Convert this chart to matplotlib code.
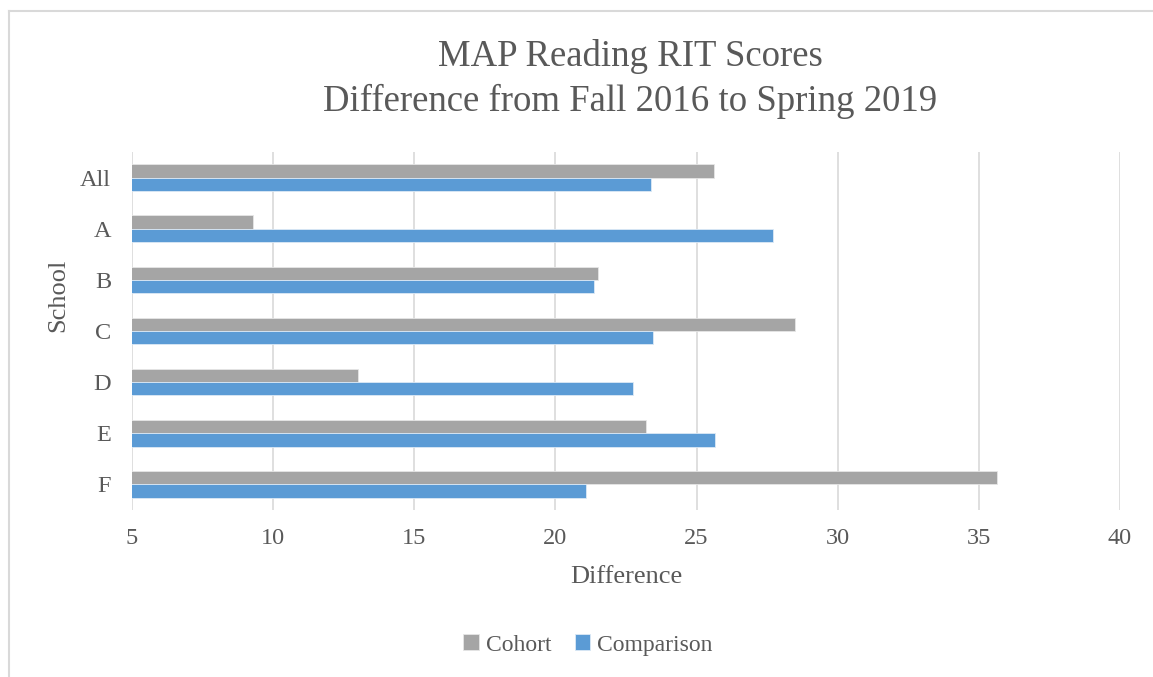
import numpy as np
import matplotlib.pyplot as plt
from matplotlib.lines import Line2D

# data
schools = ['All', 'A', 'B', 'C', 'D', 'E', 'F']
cohort = [25.6, 9.3, 21.5, 28.5, 13.0, 23.2, 35.65]
comparison = [23.4, 27.7, 21.35, 23.45, 22.75, 25.65, 21.1]
xticks = [5, 10, 15, 20, 25, 30, 35, 40]

plt.rcParams['font.family'] = ['Liberation Serif', 'DejaVu Serif']
txt = '#595959'

fig = plt.figure(figsize=(11.53, 6.77), dpi=100)
ax = fig.add_axes([132/1153, 1 - 510/677, (1120-132)/1153, (510-152)/677])

y = np.arange(len(schools))
h = 0.26
ax.barh(y - h/2, cohort, height=h, left=0, color='#A5A5A5', edgecolor='#E6E6E6',
        linewidth=0.6, label='Cohort', zorder=3)
ax.barh(y + h/2, comparison, height=h, left=0, color='#5B9BD5', edgecolor='#DCE9F5',
        linewidth=0.6, label='Comparison', zorder=3)

ax.set_xlim(5, 40)
ax.set_ylim(len(schools) - 0.5, -0.5)
ax.set_xticks(xticks)
ax.set_yticks(y)
ax.set_yticklabels(schools)
ax.tick_params(axis='both', length=0, labelsize=17.5, colors=txt)
ax.tick_params(axis='x', pad=13)
ax.tick_params(axis='y', pad=15)
ax.grid(axis='x', color='#D9D9D9', linewidth=1.2, zorder=0)
for s in ax.spines.values():
    s.set_visible(False)

# axis titles
fig.text(626/1153, 1 - 577/677, 'Difference', ha='center', va='center',
         fontsize=19, color=txt)
fig.text(58/1153, 1 - 295/677, 'School', ha='center', va='center', rotation=90,
         fontsize=19, color=txt)

fig.text(630/1153, 1 - 56/677, 'MAP Reading RIT Scores', ha='center', va='center',
         fontsize=26.5, color=txt)
fig.text(630/1153, 1 - 101/677, 'Difference from Fall 2016 to Spring 2019', ha='center',
         va='center', fontsize=26.5, color=txt)

fig.legend(loc='center', bbox_to_anchor=(588/1153, 1 - 645/677), ncol=2, frameon=False,
           fontsize=17, labelcolor=txt, handlelength=0.65, handleheight=0.65,
           handletextpad=0.3, columnspacing=1.0)

# light chart frame
fig.add_artist(Line2D([9/1153, 9/1153], [0, 1 - 11/677], color='#D9D9D9', lw=1.5))
fig.add_artist(Line2D([9/1153, 1], [1 - 11/677, 1 - 11/677], color='#D9D9D9', lw=1.5))

fig.savefig('out.png', dpi=100)
